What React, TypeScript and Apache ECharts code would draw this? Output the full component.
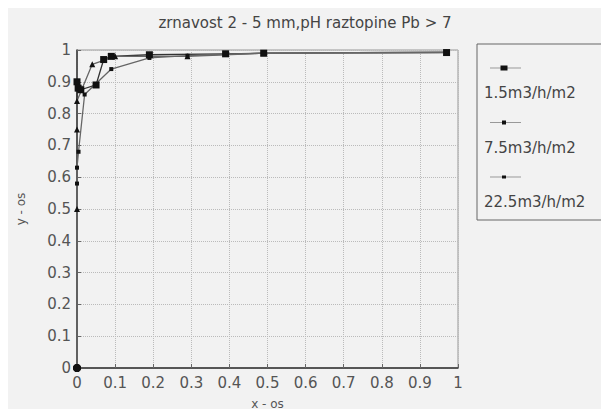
import React, { useEffect, useRef } from "react";
import * as echarts from "echarts";

const seriesNames = ["1.5m3/h/m2", "7.5m3/h/m2", "22.5m3/h/m2"];
const s1: [number, number][] = [
  [0, 0], [0, 0.9], [0.003, 0.88], [0.01, 0.875], [0.05, 0.89], [0.07, 0.97],
  [0.09, 0.98], [0.19, 0.985], [0.39, 0.988], [0.49, 0.99], [0.97, 0.992],
];
const s2: [number, number][] = [
  [0, 0], [0, 0.5], [0, 0.75], [0, 0.84], [0.04, 0.955], [0.1, 0.98],
  [0.29, 0.98], [0.49, 0.99], [0.97, 0.993],
];
const s3: [number, number][] = [
  [0, 0], [0, 0.58], [0, 0.63], [0.004, 0.68], [0.02, 0.86], [0.09, 0.94],
  [0.19, 0.975], [0.29, 0.982], [0.49, 0.99], [0.97, 0.993],
];
const symbols = ["rect", "triangle", "rect"];
const symbolSizes = [7, 6, 4];
const title = "zrnavost 2 - 5 mm,pH raztopine Pb > 7";

export default function App() {
  const ref = useRef<HTMLDivElement>(null);
  useEffect(() => {
    const chart = echarts.init(ref.current!, null, { renderer: "svg" });
    const font = "'DejaVu Sans', sans-serif";
    const data = [s1, s2, s3];
    const legendItems: any[] = [
      {
        type: "rect",
        shape: { x: 477, y: 44, width: 140, height: 176 },
        style: { fill: "#f2f2f2", stroke: "#666", lineWidth: 1 },
      },
    ];
    const lgMarker = [[7, 5], [4, 4], [4, 3]];
    seriesNames.forEach((n, i) => {
      const y0 = 68 + i * 54.5;
      legendItems.push({
        type: "line",
        shape: { x1: 490, y1: y0, x2: 521, y2: y0 },
        style: { stroke: "#999", lineWidth: 1 },
      });
      legendItems.push({
        type: "rect",
        shape: {
          x: 504 - lgMarker[i][0] / 2,
          y: y0 - lgMarker[i][1] / 2,
          width: lgMarker[i][0],
          height: lgMarker[i][1],
        },
        style: { fill: "#111" },
      });
      legendItems.push({
        type: "text",
        x: 484,
        y: y0 + 25,
        style: { text: n, font: `15px ${font}`, fill: "#444", textVerticalAlign: "middle" },
      });
    });
    chart.setOption({
      animation: false,
      backgroundColor: "#f2f2f2",
      title: {
        text: title,
        left: 300,
        top: 10,
        textAlign: "center",
        textStyle: { fontSize: 15, fontWeight: "normal", color: "#444", fontFamily: font },
      },
      grid: { left: 77, right: 151, top: 50, bottom: 49, show: true, borderColor: "#999", borderWidth: 1, backgroundColor: "#f2f2f2" },
      xAxis: {
        type: "value",
        min: 0,
        max: 1,
        interval: 0.1,
        name: "x - os",
        nameLocation: "middle",
        nameGap: 30,
        nameTextStyle: { fontSize: 12, color: "#555", fontFamily: font },
        axisLine: { lineStyle: { color: "#333", width: 1.5 } },
        axisTick: { show: true, inside: true, length: 4, lineStyle: { color: "#666" } },
        axisLabel: { fontSize: 15, color: "#555", fontFamily: font, margin: 7 },
        splitLine: { show: true, lineStyle: { type: "dotted", color: "#bbb" } },
      },
      yAxis: {
        type: "value",
        min: 0,
        max: 1,
        interval: 0.1,
        name: "y - os",
        nameLocation: "middle",
        nameGap: 50,
        nameTextStyle: { fontSize: 12, color: "#555", fontFamily: font },
        axisLine: { show: true, lineStyle: { color: "#333", width: 1.5 } },
        axisTick: { show: true, inside: true, length: 4, lineStyle: { color: "#666" } },
        axisLabel: { fontSize: 15, color: "#555", fontFamily: font, margin: 6 },
        splitLine: { show: true, lineStyle: { type: "dotted", color: "#bbb" } },
      },
      series: data.map((d, i) => ({
        name: seriesNames[i],
        type: "line",
        data: d.map((p, j) =>
          j === 0 ? { value: p, symbol: "circle", symbolSize: 8 } : { value: p }
        ),
        symbol: symbols[i],
        symbolSize: symbolSizes[i],
        showAllSymbol: true,
        lineStyle: { color: i === 0 ? "#333" : "#666", width: 1.3 },
        itemStyle: { color: "#111" },
      })),
      graphic: legendItems,
    });
    return () => chart.dispose();
  }, []);
  return <div ref={ref} style={{ width: 609, height: 417, margin: -8 }} />;
}
